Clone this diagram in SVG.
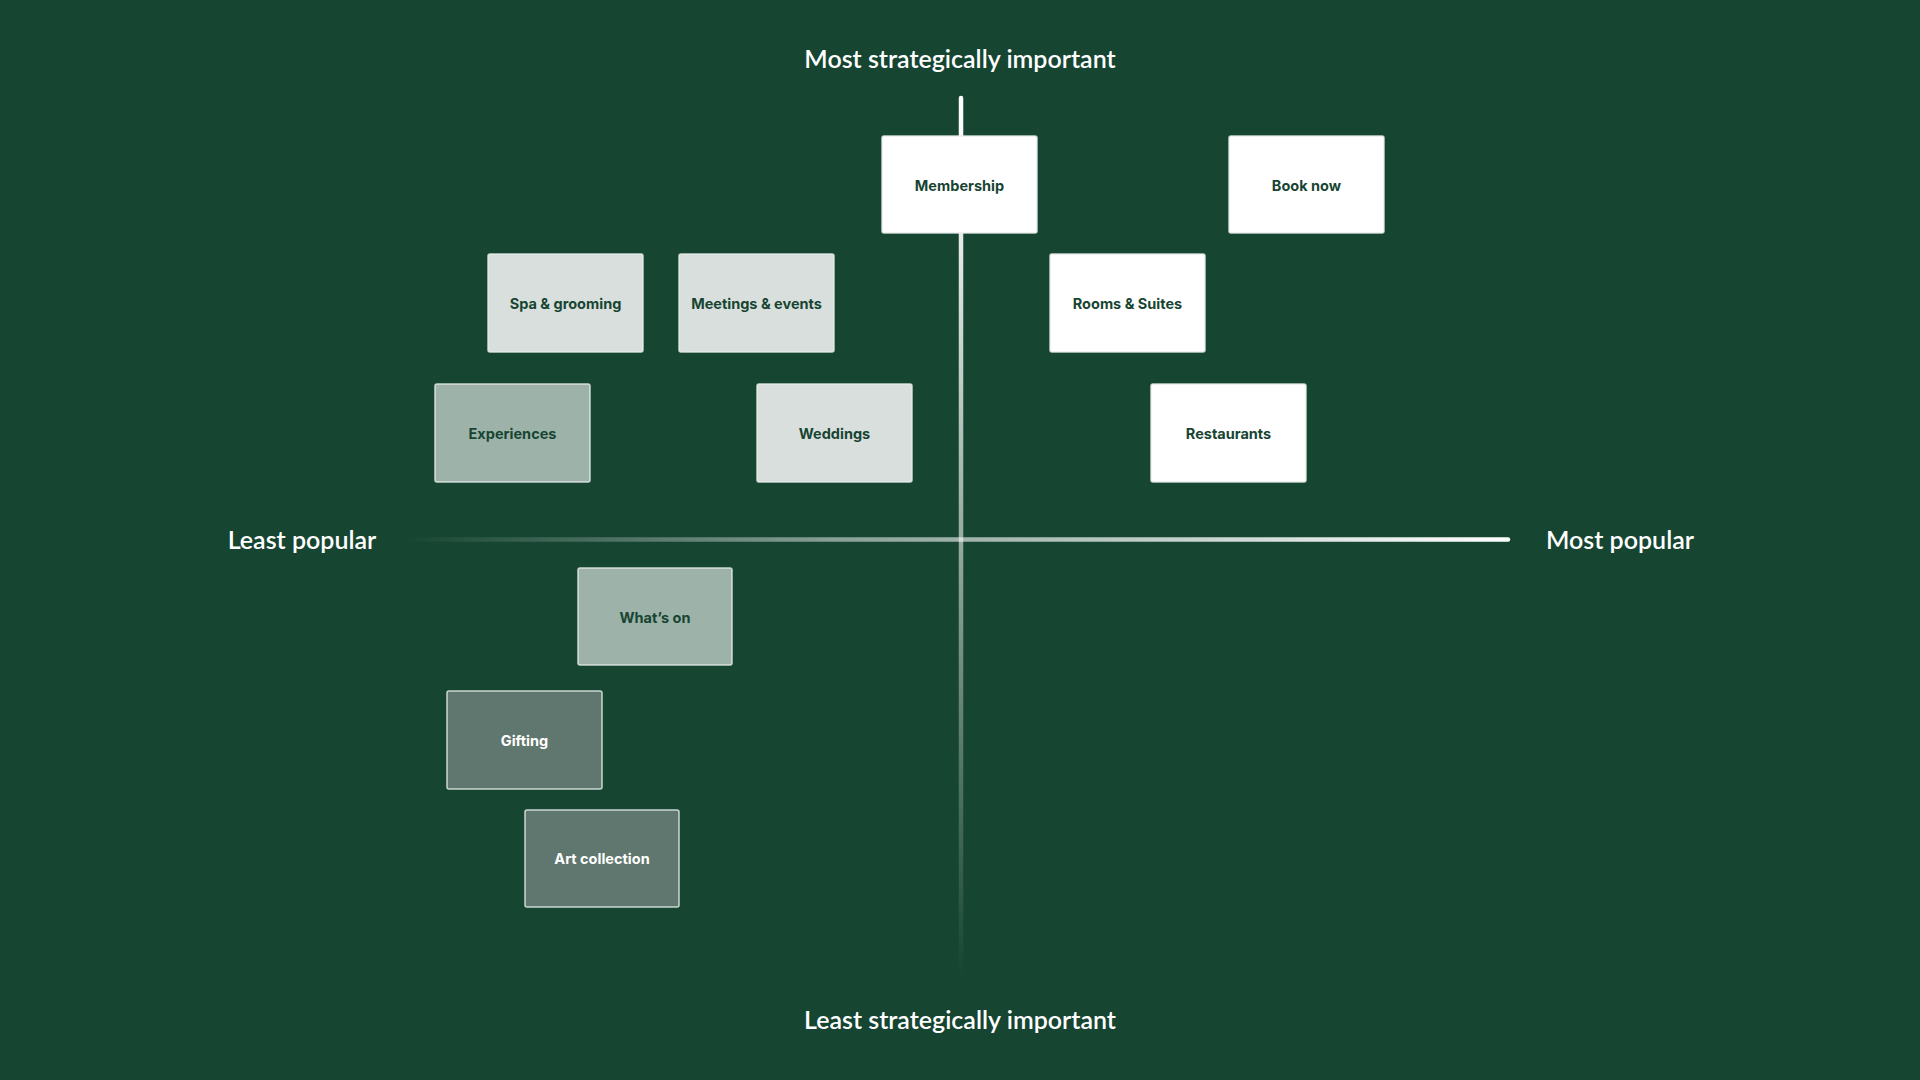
<svg xmlns="http://www.w3.org/2000/svg" width="1920" height="1080" viewBox="0 0 1920 1080">
<defs>
<style>
.axis-label{font-family:Lato,"Liberation Sans",sans-serif;font-size:25px;font-weight:600;fill:#ffffff;text-anchor:middle}
.box{stroke:#e6ebe9;stroke-opacity:0.85;stroke-width:1.5}
.w{fill:#ffffff}
.l{fill:#d9dfdd}
.m{fill:#9db2a9}
.d{fill:#5f776e}
.t{font-family:Inter,"Liberation Sans",sans-serif;font-size:14.5px;font-weight:700;text-anchor:middle;fill:#174532}
.tw{fill:#ffffff}
</style>
<linearGradient id="gv" x1="0" y1="96" x2="0" y2="978" gradientUnits="userSpaceOnUse">
<stop offset="0" stop-color="#ffffff" stop-opacity="1"/>
<stop offset="0.15" stop-color="#ffffff" stop-opacity="0.9"/>
<stop offset="0.5" stop-color="#ffffff" stop-opacity="0.55"/>
<stop offset="1" stop-color="#ffffff" stop-opacity="0"/>
</linearGradient>
<linearGradient id="gh" x1="400" y1="0" x2="1510" y2="0" gradientUnits="userSpaceOnUse">
<stop offset="0" stop-color="#ffffff" stop-opacity="0"/>
<stop offset="0.4" stop-color="#ffffff" stop-opacity="0.5"/>
<stop offset="1" stop-color="#ffffff" stop-opacity="1"/>
</linearGradient>
</defs>
<rect x="0" y="0" width="1920" height="1080" fill="#164532"/>
<g id="axes">
<line x1="961" y1="98" x2="961" y2="978" stroke="url(#gv)" stroke-width="4.5" stroke-linecap="round"/>
<line x1="400" y1="539.5" x2="1508" y2="539.5" stroke="url(#gh)" stroke-width="4.5" stroke-linecap="round"/>
</g>
<g id="labels">
<text class="axis-label" x="960" y="68">Most strategically important</text>
<text class="axis-label" x="960" y="1029">Least strategically important</text>
<text class="axis-label" x="302" y="549">Least popular</text>
<text class="axis-label" x="1620" y="549">Most popular</text>
</g>
<g id="membership"><rect class="box w" x="882" y="136" width="155" height="97" rx="2"/><text class="t" x="959.5" y="190.5">Membership</text></g>
<g id="book-now"><rect class="box w" x="1229" y="136" width="155" height="97" rx="2"/><text class="t" x="1306.5" y="190.5">Book now</text></g>
<g id="spa-grooming"><rect class="box l" x="488" y="254" width="155" height="98" rx="2"/><text class="t" x="565.5" y="308.5">Spa &amp; grooming</text></g>
<g id="meetings-events"><rect class="box l" x="679" y="254" width="155" height="98" rx="2"/><text class="t" x="756.5" y="308.5">Meetings &amp; events</text></g>
<g id="rooms-suites"><rect class="box w" x="1050" y="254" width="155" height="98" rx="2"/><text class="t" x="1127.5" y="308.5">Rooms &amp; Suites</text></g>
<g id="experiences"><rect class="box m" x="435" y="384" width="155" height="98" rx="2"/><text class="t" x="512.5" y="438.5">Experiences</text></g>
<g id="weddings"><rect class="box l" x="757" y="384" width="155" height="98" rx="2"/><text class="t" x="834.5" y="438.5">Weddings</text></g>
<g id="restaurants"><rect class="box w" x="1151" y="384" width="155" height="98" rx="2"/><text class="t" x="1228.5" y="438.5">Restaurants</text></g>
<g id="whats-on"><rect class="box m" x="578" y="568" width="154" height="97" rx="2"/><text class="t" x="655" y="622.5">What’s on</text></g>
<g id="gifting"><rect class="box d" x="447" y="691" width="155" height="98" rx="2"/><text class="t tw" x="524.5" y="745.5">Gifting</text></g>
<g id="art-collection"><rect class="box d" x="525" y="810" width="154" height="97" rx="2"/><text class="t tw" x="602" y="863.5">Art collection</text></g>
</svg>
